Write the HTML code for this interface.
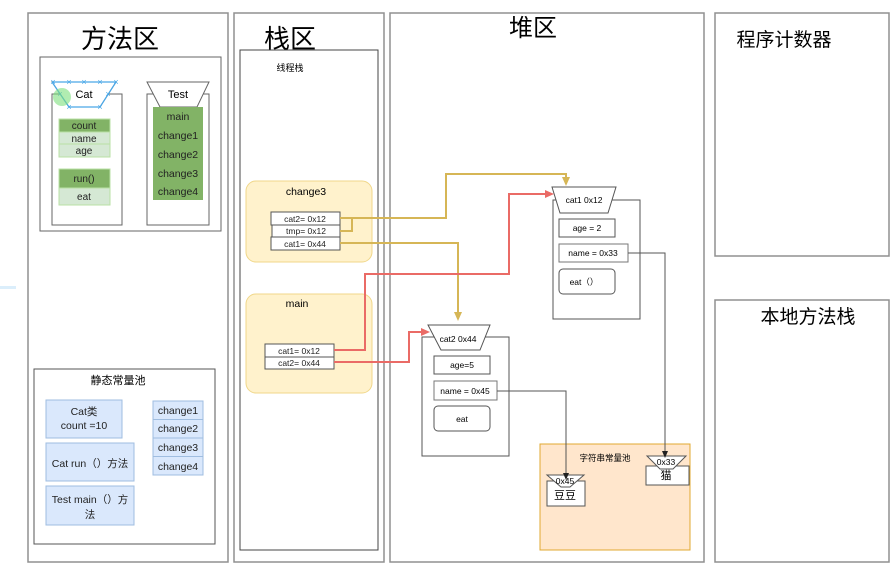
<!DOCTYPE html>
<html><head><meta charset="utf-8"><style>
html,body{margin:0;padding:0;background:#fff;}
svg text{font-family:"Liberation Sans","Noto Sans CJK SC",sans-serif;}
</style></head><body>
<svg width="893" height="572" viewBox="0 0 893 572" xmlns="http://www.w3.org/2000/svg">
<defs>
<marker id="ay" markerWidth="8" markerHeight="8" refX="4" refY="7" orient="auto-start-reverse" markerUnits="userSpaceOnUse" viewBox="0 0 8 8"><path d="M0,0 L4,7 L8,0 L4,2 Z" fill="#d6b656"/></marker>
</defs>
<rect x="0" y="286" width="16" height="3" fill="#dbeefb"/>
<!-- panels -->
<g fill="#fff" stroke="#909090" stroke-width="1.5">
<rect x="28" y="13" width="200" height="549"/>
<rect x="234" y="13" width="150" height="549"/>
<rect x="390" y="13" width="314" height="549"/>
<rect x="715" y="13" width="174" height="243"/>
<rect x="715" y="300" width="174" height="262"/>
</g>
<text x="120" y="48" font-size="26" text-anchor="middle">方法区</text>
<text x="290" y="48" font-size="26" text-anchor="middle">栈区</text>
<text x="533" y="36" font-size="24" text-anchor="middle">堆区</text>
<text x="784" y="46" font-size="19" text-anchor="middle">程序计数器</text>
<text x="808" y="323" font-size="19" text-anchor="middle">本地方法栈</text>
<!-- method area inner -->
<rect x="40" y="57" width="181" height="174" fill="#fff" stroke="#666" stroke-width="1"/>
<rect x="52" y="94" width="70" height="131" fill="#fff" stroke="#666"/>
<path d="M52,82 L116,82 L100,107 L69,107 Z" fill="#fff" stroke="#666"/>
<g stroke="#4aa8e8" stroke-width="1.2" fill="none">
<path d="M52,82 L116,82 M52,82 L69,107 L100,107 L116,82"/>
</g>
<g fill="#4aa8e8" font-size="9" text-anchor="middle">
<text x="53" y="85">×</text><text x="69" y="85">×</text><text x="84" y="85">×</text><text x="100" y="85">×</text><text x="116" y="85">×</text>
<text x="60" y="97">×</text><text x="69" y="110">×</text><text x="100" y="110">×</text><text x="108" y="97">×</text>
</g>
<circle cx="62" cy="97" r="9" fill="#7de07d" opacity="0.6"/>
<text x="84" y="98" font-size="11" text-anchor="middle">Cat</text>
<g stroke="#b9e0a5" font-size="10" text-anchor="middle">
<rect x="59" y="119" width="51" height="13" fill="#82b366"/>
<rect x="59" y="132" width="51" height="12" fill="#d5e8d4"/>
<rect x="59" y="144" width="51" height="13" fill="#d5e8d4"/>
<rect x="59" y="169" width="51" height="19" fill="#82b366"/>
<rect x="59" y="188" width="51" height="17" fill="#d5e8d4"/>
</g>
<g font-size="10" text-anchor="middle" fill="#222">
<text x="84" y="129">count</text><text x="84" y="142">name</text><text x="84" y="154">age</text>
<text x="84" y="182">run()</text><text x="84" y="200">eat</text>
</g>
<rect x="147" y="94" width="62" height="131" fill="#fff" stroke="#666"/>
<path d="M147,82 L209,82 L197,107 L160,107 Z" fill="#fff" stroke="#666"/>
<text x="178" y="98" font-size="11" text-anchor="middle">Test</text>
<rect x="153" y="107" width="50" height="93" fill="#82b366"/>
<g font-size="10.5" text-anchor="middle" fill="#222">
<text x="178" y="120">main</text><text x="178" y="139">change1</text><text x="178" y="158">change2</text><text x="178" y="177">change3</text><text x="178" y="195">change4</text>
</g>
<!-- static pool -->
<rect x="34" y="369" width="181" height="175" fill="#fff" stroke="#555"/>
<text x="118" y="384" font-size="11" text-anchor="middle">静态常量池</text>
<g fill="#dae8fc" stroke="#9fbde0">
<rect x="46" y="400" width="76" height="38"/>
<rect x="46" y="443" width="88" height="38"/>
<rect x="46" y="486" width="88" height="39"/>
<rect x="153" y="401" width="50" height="18.5"/>
<rect x="153" y="419.5" width="50" height="18.5"/>
<rect x="153" y="438" width="50" height="18.5"/>
<rect x="153" y="456.5" width="50" height="18.5"/>
</g>
<g font-size="10.5" text-anchor="middle" fill="#222">
<text x="84" y="415">Cat类</text><text x="84" y="429">count =10</text>
<text x="90" y="467">Cat  run（）方法</text>
<text x="90" y="503">Test main（）方</text><text x="90" y="518">法</text>
<text x="178" y="414">change1</text><text x="178" y="432">change2</text><text x="178" y="451">change3</text><text x="178" y="470">change4</text>
</g>
<!-- stack -->
<rect x="240" y="50" width="138" height="500" fill="#fff" stroke="#444"/>
<text x="290" y="71" font-size="9" text-anchor="middle">线程栈</text>
<rect x="246" y="181" width="126" height="81" rx="10" fill="#fff2cc" stroke="#f0d78a"/>
<text x="306" y="195" font-size="10.5" text-anchor="middle">change3</text>
<rect x="246" y="294" width="126" height="99" rx="10" fill="#fff2cc" stroke="#f0d78a"/>
<text x="297" y="307" font-size="10.5" text-anchor="middle">main</text>
<g fill="#fff" stroke="#555">
<rect x="271" y="212" width="69" height="13"/>
<rect x="272" y="225" width="68" height="12"/>
<rect x="271" y="237" width="69" height="13"/>
<rect x="265" y="344" width="69" height="13"/>
<rect x="265" y="357" width="69" height="12"/>
</g>
<g font-size="8.5" text-anchor="middle" fill="#222">
<text x="305" y="222">cat2= 0x12</text><text x="306" y="234">tmp= 0x12</text><text x="305" y="247">cat1= 0x44</text>
<text x="299" y="354">cat1= 0x12</text><text x="299" y="366">cat2= 0x44</text>
</g>
<!-- heap objects -->
<rect x="553" y="200" width="87" height="119" fill="#fff" stroke="#555"/>
<path d="M552,187 L616,187 L608,213 L560,213 Z" fill="#fff" stroke="#555"/>
<text x="584" y="203" font-size="8.5" text-anchor="middle">cat1 0x12</text>
<rect x="559" y="219" width="56" height="18" fill="#fff" stroke="#555"/>
<rect x="559" y="244" width="69" height="18" fill="#fff" stroke="#777"/>
<rect x="559" y="269" width="56" height="25" rx="4" fill="#fff" stroke="#555"/>
<g font-size="8.5" text-anchor="middle"><text x="587" y="231">age = 2</text><text x="593" y="256">name = 0x33</text><text x="584" y="285">eat（）</text></g>
<rect x="422" y="337" width="87" height="119" fill="#fff" stroke="#555"/>
<path d="M428,325 L490,325 L480,350 L441,350 Z" fill="#fff" stroke="#555"/>
<text x="458" y="342" font-size="8.5" text-anchor="middle">cat2 0x44</text>
<rect x="434" y="356" width="56" height="18" fill="#fff" stroke="#555"/>
<rect x="434" y="381" width="63" height="19" fill="#fff" stroke="#777"/>
<rect x="434" y="406" width="56" height="25" rx="4" fill="#fff" stroke="#555"/>
<g font-size="8.5" text-anchor="middle"><text x="462" y="368">age=5</text><text x="465" y="394">name = 0x45</text><text x="462" y="422">eat</text></g>
<!-- string pool -->
<rect x="540" y="444" width="150" height="106" fill="#ffe6cc" stroke="#e0a830"/>
<text x="605" y="461" font-size="8.5" text-anchor="middle">字符串常量池</text>
<rect x="547" y="481" width="38" height="25" fill="#fff" stroke="#555"/>
<path d="M547,475 L584,475 L570,487 L561,487 Z" fill="#fff" stroke="#555"/>
<text x="565" y="484" font-size="8.5" text-anchor="middle">0x45</text>
<text x="565" y="499" font-size="11" text-anchor="middle">豆豆</text>
<rect x="646" y="466" width="43" height="19" fill="#fff" stroke="#555"/>
<path d="M647,456 L686,456 L673,469 L660,469 Z" fill="#fff" stroke="#555"/>
<text x="666" y="465" font-size="8.5" text-anchor="middle">0x33</text>
<text x="666" y="479" font-size="11" text-anchor="middle">猫</text>
<!-- connectors -->
<g fill="none" stroke="#d6b656" stroke-width="2">
<path d="M340,218 L446,218 L446,174 L566,174 L566,184"/>
<path d="M340,231 L352,231 L352,218"/>
<path d="M340,243 L458,243 L458,318"/>
</g>
<path d="M562,177 L566,186 L570,177 Z" fill="#d6b656"/>
<path d="M454,312 L458,321 L462,312 Z" fill="#d6b656"/>
<g fill="none" stroke="#ea6b66" stroke-width="2">
<path d="M334,350 L365,350 L365,274 L509,274 L509,194 L548,194"/>
<path d="M334,362 L409,362 L409,332 L424,332"/>
</g>
<path d="M545,190 L554,194 L545,198 Z" fill="#ea6b66"/>
<path d="M421,328 L430,332 L421,336 Z" fill="#ea6b66"/>
<g fill="none" stroke="#555" stroke-width="1">
<path d="M628,253 L665,253 L665,452"/>
<path d="M497,391 L566,391 L566,474"/>
</g>
<path d="M662,451 L665,458 L668,451 Z" fill="#222"/>
<path d="M563,473 L566,480 L569,473 Z" fill="#222"/>
</svg>
</body></html>
